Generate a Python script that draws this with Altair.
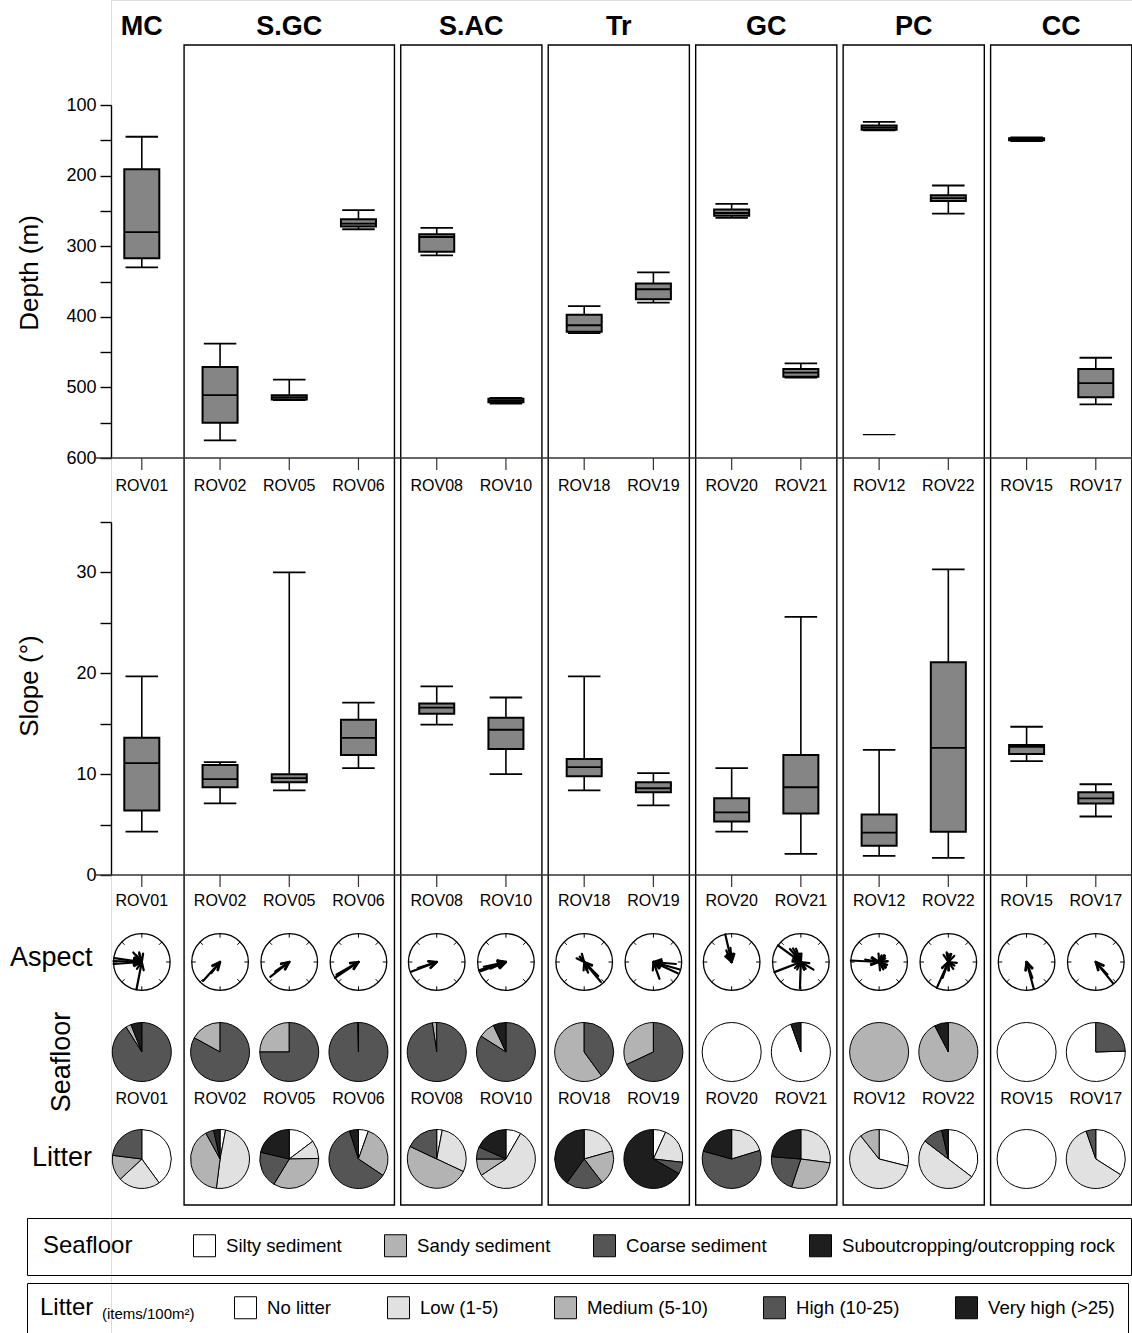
import math
import altair as alt
import pandas as pd

# ---------------------------------------------------------------- sites
rovs = ["ROV01", "ROV02", "ROV05", "ROV06", "ROV08", "ROV10", "ROV18",
        "ROV19", "ROV20", "ROV21", "ROV12", "ROV22", "ROV15", "ROV17"]
site_group = ["MC", "S.GC", "S.GC", "S.GC", "S.AC", "S.AC", "Tr",
              "Tr", "GC", "GC", "PC", "PC", "CC", "CC"]
groups = ["MC", "S.GC", "S.AC", "Tr", "GC", "PC", "CC"]

# ---------------------------------------------------------------- depth (m)
depth_min = [145, 438, 489, 249, 274, 515, 385, 337, 240, 466, 124, 214, 146, 458]
depth_q1 = [191, 471, 511, 262, 283, 516, 397, 353, 248, 474, 129, 228, 147, 474]
depth_med = [280, 511, 514, 268, 287, 519, 412, 361, 253, 479, 132, 232, 148, 494]
depth_q3 = [317, 550, 517, 272, 308, 521, 421, 375, 257, 485, 135, 236, 150, 514]
depth_max = [330, 575, 518, 276, 313, 523, 423, 380, 260, 486, 136, 254, 151, 524]
depth_outlier_site = ["ROV12"]
depth_outlier = [567]

# ---------------------------------------------------------------- slope (deg)
slope_min = [4.3, 7.1, 8.4, 10.6, 14.9, 10.0, 8.4, 6.9, 4.3, 2.1, 1.9, 1.7, 11.3, 5.8]
slope_q1 = [6.4, 8.7, 9.2, 11.9, 16.0, 12.5, 9.8, 8.2, 5.3, 6.1, 2.9, 4.3, 12.0, 7.1]
slope_med = [11.1, 9.5, 9.6, 13.6, 16.6, 14.4, 10.7, 8.6, 6.2, 8.7, 4.2, 12.6, 12.7, 7.6]
slope_q3 = [13.6, 10.9, 10.0, 15.4, 17.0, 15.6, 11.5, 9.2, 7.6, 11.9, 6.0, 21.1, 12.9, 8.2]
slope_max = [19.7, 11.2, 30.0, 17.1, 18.7, 17.6, 19.7, 10.1, 10.6, 25.6, 12.4, 30.3, 14.7, 9.0]

# ---------------------------------------------------------------- aspect arrows
aspect_site = ["ROV01"] * 6 + ["ROV02"] * 2 + ["ROV05"] * 2 + ["ROV06"] * 2 + \
    ["ROV08"] * 2 + ["ROV10"] * 4 + ["ROV18"] * 4 + ["ROV19"] * 4 + \
    ["ROV20"] * 3 + ["ROV21"] * 7 + ["ROV12"] * 6 + ["ROV22"] * 5 + \
    ["ROV15"] * 2 + ["ROV17"] * 2
aspect_bearing = [272, 266, 278, 191, 318, 345,
                  222, 218,
                  232, 236,
                  236, 240,
                  249, 252,
                  253, 250, 258, 247,
                  140, 135, 160, 320,
                  106, 115, 160, 95,
                  347, 335, 355,
                  306, 249, 182, 121, 320, 330, 340,
                  273, 280, 60, 110, 150, 20,
                  204, 200, 350, 20, 120,
                  165, 160,
                  141, 137]
aspect_length = [1.0, 1.0, 0.98, 0.98, 0.45, 0.35,
                 0.9, 0.5,
                 0.85, 0.6,
                 1.0, 0.9,
                 0.97, 0.7,
                 1.0, 0.95, 0.8, 0.6,
                 0.92, 0.7, 0.4, 0.25,
                 0.97, 0.95, 0.63, 0.8,
                 1.0, 0.45, 0.5,
                 1.0, 1.0, 0.94, 0.52, 0.6, 0.55, 0.5,
                 1.0, 0.5, 0.25, 0.3, 0.3, 0.25,
                 1.0, 0.6, 0.35, 0.3, 0.25,
                 0.98, 0.6,
                 0.96, 0.6]

# ---------------------------------------------------------------- seafloor shares
seafloor_types = ["Silty sediment", "Sandy sediment", "Coarse sediment",
                  "Suboutcropping/outcropping rock"]
seafloor_colors = ["#ffffff", "#b3b3b3", "#555555", "#1e1e1e"]
seafloor_draw_order = [2, 1, 0, 3]   # clockwise from 12 o'clock: coarse, sandy, silty, rock
silty = [0, 0, 0, 0, 0, 0, 0, 0, 1.0, 0.945, 0, 0, 1.0, 0.755]
sandy = [0.03, 0.17, 0.25, 0, 0.024, 0.09, 0.60, 0.32, 0, 0, 1.0, 0.924, 0, 0]
coarse = [0.91, 0.83, 0.75, 0.997, 0.976, 0.84, 0.40, 0.68, 0, 0, 0, 0, 0, 0.245]
rock = [0.06, 0, 0, 0.003, 0, 0.07, 0, 0, 0, 0.055, 0, 0.076, 0, 0]

# ---------------------------------------------------------------- litter shares
litter_classes = ["No litter", "Low (1-5)", "Medium (5-10)", "High (10-25)", "Very high (>25)"]
litter_colors = ["#ffffff", "#e1e1e1", "#b3b3b3", "#555555", "#1e1e1e"]
no_litter = [0.40, 0.03, 0.147, 0.054, 0.03, 0.083, 0, 0.068, 0, 0, 0.289, 0.354, 1.0, 0.34]
low_litter = [0.23, 0.49, 0.10, 0, 0.29, 0.574, 0.206, 0.20, 0.203, 0.271, 0.604, 0.50, 0, 0.607]
medium_litter = [0.14, 0.40, 0.34, 0.29, 0.50, 0.093, 0.19, 0, 0, 0.28, 0.107, 0, 0, 0]
high_litter = [0.23, 0.045, 0.20, 0.607, 0.18, 0.067, 0.204, 0.065, 0.59, 0.212, 0, 0.11, 0, 0.053]
vhigh_litter = [0, 0.035, 0.213, 0.049, 0, 0.183, 0.40, 0.667, 0.207, 0.237, 0, 0.036, 0, 0]

# ---------------------------------------------------------------- layout
FONT = "Liberation Sans"
PAD_LEFT = 111
PLOT_W = 1132 - PAD_LEFT
PLOT_H = 1333
SLOT_PX = 69.2                 # pixels between neighbouring sites
SLOT_X0 = 141.8 - PAD_LEFT     # pixel of the first site inside the plot
GROUP_GAP = 0.131              # extra spacing between site groups
BOX_HALF = 0.253               # half box width (slots)
CAP_HALF = 0.235
FRAME_HALF = 0.52
ROSE_CY, ROSE_R = 962, 28.3
R_SLOT = ROSE_R / SLOT_PX
PIE_R = 29.5
SEAFLOOR_CY, LITTER_CY = 1052, 1159

x_scale = alt.Scale(domain=[-SLOT_X0 / SLOT_PX, (PLOT_W - SLOT_X0) / SLOT_PX],
                    range=[0, PLOT_W], nice=False, zero=False)
depth_scale = alt.Scale(domain=[100, 600], range=[105, 458], nice=False, zero=False)
slope_scale = alt.Scale(domain=[0, 35], range=[875, 522], nice=False, zero=False)
rose_scale = alt.Scale(domain=[-1, 1], range=[ROSE_CY + ROSE_R, ROSE_CY - ROSE_R],
                       nice=False, zero=False)
theta_scale = alt.Scale(domain=[0, 1], range=[0, 2 * math.pi])

gidx = [groups.index(g) for g in site_group]
slots = [i + GROUP_GAP * g for i, g in enumerate(gidx)]
slot_of = dict(zip(rovs, slots))

stats = pd.DataFrame({
    "rov": rovs, "slot": slots,
    "d_min": depth_min, "d_q1": depth_q1, "d_med": depth_med, "d_q3": depth_q3, "d_max": depth_max,
    "s_min": slope_min, "s_q1": slope_q1, "s_med": slope_med, "s_q3": slope_q3, "s_max": slope_max,
})
stats["bx0"] = stats["slot"] - BOX_HALF
stats["bx1"] = stats["slot"] + BOX_HALF
stats["cx0"] = stats["slot"] - CAP_HALF
stats["cx1"] = stats["slot"] + CAP_HALF

grp = pd.DataFrame({"group": site_group, "slot": slots}).groupby("group", sort=False)["slot"]
frames = pd.DataFrame({"group": groups,
                       "x0": [grp.min()[g] - FRAME_HALF for g in groups],
                       "x1": [grp.max()[g] + FRAME_HALF for g in groups],
                       "xc": [(grp.min()[g] + grp.max()[g]) / 2 for g in groups]})

outliers = pd.DataFrame({"rov": depth_outlier_site, "depth": depth_outlier})
outliers["cx0"] = outliers["rov"].map(slot_of) - CAP_HALF
outliers["cx1"] = outliers["rov"].map(slot_of) + CAP_HALF


def X(field):
    # horizontal site position; never stacked
    return alt.X(f"{field}:Q", scale=x_scale, axis=None, stack=False)


# ---------------------------------------------------------------- frames & titles
frame_layer = alt.Chart(frames[frames.group != "MC"]).mark_rect(
    fillOpacity=0, stroke="black", strokeWidth=1.4
).encode(x=X("x0"), x2="x1:Q", y=alt.value(45), y2=alt.value(1205))

title_layer = alt.Chart(frames).mark_text(
    font=FONT, fontSize=27, fontWeight="bold", baseline="alphabetic", color="black"
).encode(x=X("xc"), y=alt.value(35), text="group:N")


# ---------------------------------------------------------------- box plots
def boxplot(prefix, scale, axis):
    base = alt.Chart(stats)
    whisker = base.mark_rule(color="black", strokeWidth=1.6).encode(
        x=X("slot"), y=alt.Y(f"{prefix}_min:Q", scale=scale, axis=axis), y2=f"{prefix}_max:Q")
    box = base.mark_rect(fill="#858585", stroke="black", strokeWidth=2).encode(
        x=X("bx0"), x2="bx1:Q",
        y=alt.Y(f"{prefix}_q1:Q", scale=scale, axis=None), y2=f"{prefix}_q3:Q")
    median = base.mark_rule(color="black", strokeWidth=1.8).encode(
        x=X("bx0"), x2="bx1:Q", y=alt.Y(f"{prefix}_med:Q", scale=scale, axis=None))
    cap_lo = base.mark_rule(color="black", strokeWidth=1.8).encode(
        x=X("cx0"), x2="cx1:Q", y=alt.Y(f"{prefix}_min:Q", scale=scale, axis=None))
    cap_hi = base.mark_rule(color="black", strokeWidth=1.8).encode(
        x=X("cx0"), x2="cx1:Q", y=alt.Y(f"{prefix}_max:Q", scale=scale, axis=None))
    return [whisker, box, median, cap_lo, cap_hi]


axis_style = dict(orient="left", grid=False, title=None, tickSize=11, tickWidth=1.4,
                  domainWidth=1.4, domainColor="black", tickColor="black",
                  labelColor="black", labelFont=FONT, labelFontSize=18, labelPadding=4,
                  format="d")
depth_axis = alt.Axis(values=list(range(100, 601, 50)),
                      labelExpr="datum.value % 100 === 0 ? datum.label : ''", **axis_style)
slope_axis = alt.Axis(values=list(range(0, 36, 5)),
                      labelExpr="datum.value % 10 === 0 ? datum.label : ''", **axis_style)

depth_layers = boxplot("d", depth_scale, depth_axis)
slope_layers = boxplot("s", slope_scale, slope_axis)

outlier_layer = alt.Chart(outliers).mark_rule(color="black", strokeWidth=1.2).encode(
    x=X("cx0"), x2="cx1:Q", y=alt.Y("depth:Q", scale=depth_scale, axis=None))

# baselines, site ticks and site labels
baseline_layers = []
for y_base, label_y in [(458, 486), (875, 901)]:
    baseline_layers.append(alt.Chart(stats.head(1)).mark_rule(color="#333333", strokeWidth=1.4).encode(
        x=alt.value(-16), x2=alt.value(PLOT_W), y=alt.value(y_base)))
    baseline_layers.append(alt.Chart(stats).mark_rule(color="#333333", strokeWidth=1.2).encode(
        x=X("slot"), y=alt.value(y_base), y2=alt.value(y_base + 12)))
    baseline_layers.append(alt.Chart(stats).mark_text(
        font=FONT, fontSize=16, color="black", baseline="middle").encode(
        x=X("slot"), y=alt.value(label_y), text="rov:N"))
baseline_layers.append(alt.Chart(stats).mark_text(
    font=FONT, fontSize=16, color="black", baseline="middle").encode(
    x=X("slot"), y=alt.value(1099), text="rov:N"))

# ---------------------------------------------------------------- aspect roses
rose_circles = alt.Chart(stats).mark_arc(
    radius=ROSE_R, theta=0, theta2=2 * math.pi, fill="white", stroke="black", strokeWidth=1.3
).encode(x=X("slot"), y=alt.value(ROSE_CY))

tick_rows = []
for r, s in zip(rovs, slots):
    for a in range(0, 360, 45):
        t = math.radians(a)
        tick_rows.append({"x0": s + R_SLOT * math.sin(t), "y0": math.cos(t),
                          "x1": s + R_SLOT * 0.86 * math.sin(t), "y1": 0.86 * math.cos(t)})
rose_ticks = alt.Chart(pd.DataFrame(tick_rows)).mark_rule(color="black", strokeWidth=1).encode(
    x=X("x0"), x2="x1:Q", y=alt.Y("y0:Q", scale=rose_scale, axis=None), y2="y1:Q")

HEAD_LEN, HEAD_ANGLE = 0.3, 24
seg_rows = []
for r, b, ln in zip(aspect_site, aspect_bearing, aspect_length):
    s = slot_of[r]
    t = math.radians(b)
    seg_rows.append({"x0": s + R_SLOT * ln * math.sin(t), "y0": ln * math.cos(t), "x1": s, "y1": 0.0})
    for side in (-1, 1):
        h = math.radians(b + side * HEAD_ANGLE)
        seg_rows.append({"x0": s, "y0": 0.0,
                         "x1": s + R_SLOT * HEAD_LEN * math.sin(h), "y1": HEAD_LEN * math.cos(h)})
rose_arrows = alt.Chart(pd.DataFrame(seg_rows)).mark_rule(
    color="black", strokeWidth=2.2, strokeCap="round").encode(
    x=X("x0"), x2="x1:Q", y=alt.Y("y0:Q", scale=rose_scale, axis=None), y2="y1:Q")

# ---------------------------------------------------------------- pies
sf_rows = []
for i, r in enumerate(rovs):
    shares = [silty[i], sandy[i], coarse[i], rock[i]]
    for k, name in enumerate(seafloor_types):
        sf_rows.append({"rov": r, "slot": slots[i], "cat": name, "share": shares[k],
                        "order": seafloor_draw_order[k]})
lt_rows = []
for i, r in enumerate(rovs):
    shares = [no_litter[i], low_litter[i], medium_litter[i], high_litter[i], vhigh_litter[i]]
    for k, name in enumerate(litter_classes):
        lt_rows.append({"rov": r, "slot": slots[i], "cat": name, "share": shares[k], "order": k})

legend_common = dict(orient="none", direction="horizontal", titleOrient="left",
                     titleFont=FONT, titleFontSize=24, titleFontWeight="normal",
                     titleColor="black", titleAnchor="middle", titleBaseline="middle",
                     labelFont=FONT, labelFontSize=18.6, labelColor="black", labelOffset=10,
                     labelLimit=400, symbolType="square", symbolSize=484,
                     symbolStrokeColor="black", symbolStrokeWidth=1,
                     strokeColor="black")


def pie_layer(rows, cats, colors, cy, legend):
    return alt.Chart(pd.DataFrame(rows)).transform_filter("datum.share > 0").transform_stack(
        stack="share", groupby=["rov"], as_=["t0", "t1"],
        sort=[alt.SortField("order")], offset="normalize"
    ).mark_arc(radius=PIE_R, stroke="black", strokeWidth=1).encode(
        x=X("slot"), y=alt.value(cy),
        theta=alt.Theta("t0:Q", scale=theta_scale, stack=False),
        theta2="t1:Q",
        fill=alt.Fill("cat:N", scale=alt.Scale(domain=cats, range=colors), legend=legend))


seafloor_layer = pie_layer(sf_rows, seafloor_types, seafloor_colors, SEAFLOOR_CY, alt.Legend(
    title="Seafloor", legendX=27 - PAD_LEFT, legendY=1218, columns=4, columnPadding=40,
    titlePadding=60, padding=16, **legend_common))
litter_layer = pie_layer(lt_rows, litter_classes, litter_colors, LITTER_CY, alt.Legend(
    title="Litter", legendX=27 - PAD_LEFT, legendY=1283, columns=5, columnPadding=53,
    titlePadding=140, padding=13, **legend_common))

# ---------------------------------------------------------------- free text
def label(text, x, y, size, angle=0, align="left"):
    return alt.Chart(pd.DataFrame({"t": [text]})).mark_text(
        font=FONT, fontSize=size, angle=angle, align=align, baseline="middle", color="black"
    ).encode(x=alt.value(x - PAD_LEFT), y=alt.value(y), text="t:N")


texts = [
    label("Depth (m)", 30, 273, 26, angle=270, align="center"),
    label("Slope (°)", 30, 686, 26, angle=270, align="center"),
    label("Aspect", 10, 958, 27),
    label("Seafloor", 62, 1062, 27, angle=270, align="center"),
    label("Litter", 32, 1158, 27),
    label("(items/100m²)", 102, 1314, 15),
]

layers = [frame_layer, title_layer] + baseline_layers + depth_layers + [outlier_layer] + \
    slope_layers + [rose_circles, rose_ticks, rose_arrows, seafloor_layer, litter_layer] + texts

chart = alt.layer(*layers).resolve_scale(
    y="independent", fill="independent"
).resolve_legend(fill="independent").properties(
    width=PLOT_W, height=PLOT_H,
    padding={"left": PAD_LEFT, "top": 0, "right": 0, "bottom": 0},
    autosize=alt.AutoSizeParams(type="none"),
    background="white",
).configure_view(strokeWidth=0).configure(font=FONT)

chart.save("out.html", embed_options={"renderer": "svg", "actions": False})
